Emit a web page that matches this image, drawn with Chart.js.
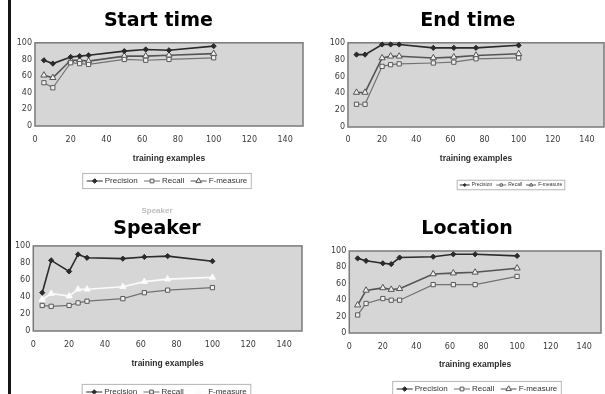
<!DOCTYPE html>
<html>
<head>
<meta charset="utf-8">
<script src="https://cdn.jsdelivr.net/npm/chart.js@4.4.1/dist/chart.umd.min.js"></script>
<style>
    html, body { margin: 0; padding: 0; background: #fff; width: 605px; height: 394px; overflow: hidden; position: relative; }
    .edge { position: absolute; left: 8px; top: 0; width: 3px; height: 394px; background: #151515; }
    canvas { position: absolute; }
</style>
</head>
<body>
<div class="edge"></div>
<canvas id="startTime" width="302" height="200" style="left:12px;top:0px"></canvas>
<canvas id="endTime" width="284" height="200" style="left:325px;top:0px"></canvas>
<canvas id="speaker" width="300" height="200" style="left:12px;top:200px"></canvas>
<canvas id="location" width="278" height="200" style="left:328px;top:200px"></canvas>
<script>
// training set sizes on the x axis
var examples = [5, 10, 20, 25, 30, 50, 62, 75, 100];
var seriesNames = ["Precision", "Recall", "F-measure"];

var startPrecision = [79, 75, 83, 84, 85, 90, 92, 91, 96];
var startRecall = [52, 46, 76, 75, 74, 80, 79, 80, 82];
var startFmeasure = [61, 58, 79, 79, 78, 84, 84, 85, 87];

var endPrecision = [86, 86, 98, 98, 98, 94, 94, 94, 97];
var endRecall = [27, 27, 72, 74, 75, 76, 77, 81, 82];
var endFmeasure = [41, 41, 82, 84, 84, 82, 83, 85, 87];

var speakerPrecision = [45, 83, 70, 90, 86, 85, 87, 88, 82];
var speakerRecall = [30, 29, 30, 33, 35, 38, 45, 48, 51];
var speakerFmeasure = [37, 44, 41, 49, 49, 52, 58, 61, 63];

var locationPrecision = [91, 88, 85, 84, 92, 93, 96, 96, 94];
var locationRecall = [22, 36, 42, 40, 40, 59, 59, 59, 69];
var locationFmeasure = [34, 52, 55, 53, 54, 72, 73, 74, 79];

function pairs(values) {
    return examples.map(function (x, i) { return { x: x, y: values[i] }; });
}

// grey plot area like the scanned excel charts
var plotBack = {
    id: 'plotBack',
    beforeDatasetsDraw: function (chart) {
        var a = chart.chartArea, ctx = chart.ctx;
        ctx.save();
        ctx.fillStyle = '#d6d6d6';
        ctx.fillRect(a.left, a.top, a.right - a.left, a.bottom - a.top);
        ctx.strokeStyle = '#7a7a7a';
        ctx.lineWidth = 1.5;
        ctx.strokeRect(a.left, a.top, a.right - a.left, a.bottom - a.top);
        ctx.restore();
    }
};

// legend with line + marker symbols inside a thin box
var boxLegend = {
    id: 'boxLegend',
    afterDraw: function (chart, args, opts) {
        var ctx = chart.ctx;
        var size = opts.size;
        var sym = size * 2;
        var font = size + 'px "Liberation Sans", Arial, sans-serif';
        ctx.save();
        ctx.font = font;
        var total = 0;
        var widths = chart.data.datasets.map(function (ds) {
            var w = sym + 2 + ctx.measureText(ds.label).width;
            total += w;
            return w;
        });
        total += size * 0.8 * (widths.length - 1);
        var cy = chart.chartArea.bottom + opts.dy;
        var x = opts.cx - total / 2;
        ctx.strokeStyle = '#b5b5b5';
        ctx.lineWidth = 1;
        ctx.strokeRect(x - size * 0.5, cy - size * 0.95, total + size, size * 1.9);
        chart.data.datasets.forEach(function (ds, i) {
            ctx.strokeStyle = ds.borderColor;
            ctx.lineWidth = 1;
            ctx.beginPath();
            ctx.moveTo(x, cy);
            ctx.lineTo(x + sym, cy);
            ctx.stroke();
            ctx.fillStyle = ds.backgroundColor;
            ctx.strokeStyle = ds.pointBorderColor || ds.borderColor;
            Chart.helpers.drawPoint(ctx, {
                pointStyle: ds.pointStyle,
                radius: ds.pointRadius * size / 9,
                rotation: 0,
                borderWidth: 1
            }, x + sym / 2, cy);
            ctx.fillStyle = '#333';
            ctx.textBaseline = 'middle';
            ctx.fillText(ds.label, x + sym + 2, cy);
            x += widths[i] + size * 0.8;
        });
        ctx.restore();
    }
};

function buildSeries(prec, rec, fm, fColor) {
    return [{
        label: seriesNames[0],
        data: pairs(prec),
        borderColor: '#2a2a2a',
        backgroundColor: '#2a2a2a',
        borderWidth: 1.6,
        pointStyle: 'rectRot',
        pointRadius: 2.6,
        pointBorderWidth: 1
    }, {
        label: seriesNames[1],
        data: pairs(rec),
        borderColor: '#727272',
        backgroundColor: '#f0f0f0',
        pointBorderColor: '#5a5a5a',
        borderWidth: 1.2,
        pointStyle: 'rect',
        pointRadius: 3,
        pointBorderWidth: 1
    }, {
        label: seriesNames[2],
        data: pairs(fm),
        borderColor: fColor,
        backgroundColor: fColor == '#555555' ? '#f0f0f0' : fColor,
        pointBorderColor: fColor,
        borderWidth: 1.6,
        pointStyle: 'triangle',
        pointRadius: 3.6,
        pointBorderWidth: 1
    }];
}

function drawPanel(id, heading, prec, rec, fm, cfg) {
    var tickFont = { family: '"DejaVu Sans", sans-serif', size: 8 };
    return new Chart(document.getElementById(id), {
        type: 'line',
        data: { datasets: buildSeries(prec, rec, fm, cfg.fColor || '#555555') },
        options: {
            responsive: false,
            animation: false,
            layout: { padding: cfg.pad },
            elements: { line: { tension: 0 } },
            datasets: { line: { clip: false } },
            plugins: {
                legend: { display: false },
                tooltip: { enabled: false },
                title: {
                    display: true,
                    text: cfg.top ? cfg.top : heading,
                    color: cfg.top ? '#bdbdbd' : '#000',
                    font: cfg.top ? { family: '"Liberation Sans", Arial', size: 8 } : { family: '"DejaVu Sans", sans-serif', size: 19, weight: 'bold' },
                    padding: cfg.titlePad
                },
                subtitle: {
                    display: !!cfg.top,
                    text: heading,
                    color: '#000',
                    font: { family: '"DejaVu Sans", sans-serif', size: 19, weight: 'bold' },
                    padding: cfg.subPad || 0
                },
                boxLegend: cfg.legend
            },
            scales: {
                x: {
                    type: 'linear',
                    min: 0,
                    max: 150,
                    grid: { display: false, drawTicks: false },
                    border: { display: false },
                    ticks: { stepSize: 20, includeBounds: false, color: '#3a3a3a', font: tickFont, padding: cfg.xPad, maxRotation: 0 },
                    title: {
                        display: true,
                        text: 'training examples',
                        color: '#2e2e2e',
                        font: { family: '"Liberation Sans", Arial, sans-serif', size: 8.5, weight: 'bold', lineHeight: 1 },
                        padding: { top: cfg.axisPad, bottom: 0 }
                    }
                },
                y: {
                    min: 0,
                    max: 100,
                    grid: { display: false, drawTicks: false },
                    border: { display: false },
                    ticks: { stepSize: 20, color: '#3a3a3a', font: tickFont, padding: 3 }
                }
            }
        },
        plugins: [plotBack, boxLegend]
    });
}

drawPanel('startTime', 'Start time', startPrecision, startRecall, startFmeasure, {
    pad: { left: 1.7, right: 11, top: 0, bottom: 37.5 },
    titlePad: { top: 10, bottom: 10 },
    xPad: 9.2, axisPad: 0,
    legend: { cx: 155, dy: 55, size: 8 }
});

drawPanel('endTime', 'End time', endPrecision, endRecall, endFmeasure, {
    pad: { left: 1.7, right: 0, top: 0, bottom: 36.75 },
    titlePad: { top: 10, bottom: 10 },
    xPad: 8.2, axisPad: 1.75,
    legend: { cx: 186, dy: 58, size: 5 }
});

drawPanel('speaker', 'Speaker', speakerPrecision, speakerRecall, speakerFmeasure, {
    pad: { left: 0, right: 10, top: 0, bottom: 31.7 },
    top: 'Speaker',
    titlePad: { top: 6, bottom: 0 },
    subPad: { top: 2.5, bottom: 5 },
    xPad: 9.6, axisPad: 0,
    fColor: '#fbfbfb',
    legend: { cx: 154.5, dy: 61, size: 8 }
});

drawPanel('location', 'Location', locationPrecision, locationRecall, locationFmeasure, {
    pad: { left: 0, right: 0, top: 0, bottom: 30.9 },
    titlePad: { top: 18, bottom: 10.2 },
    xPad: 9, axisPad: 0,
    legend: { cx: 149, dy: 56, size: 8 }
});
</script>
</body>
</html>
